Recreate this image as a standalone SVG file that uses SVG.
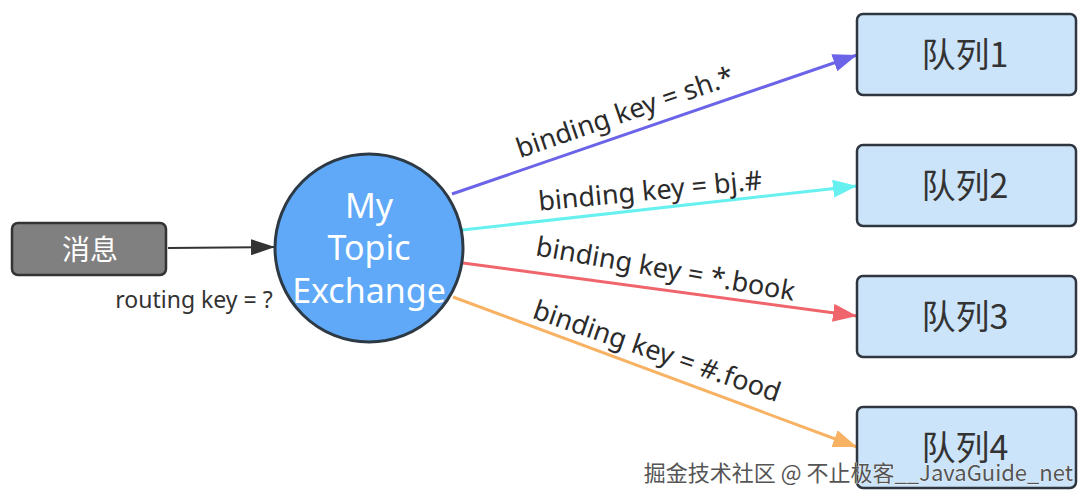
<svg xmlns="http://www.w3.org/2000/svg" width="1089" height="501" viewBox="0 0 1089 501">
<style>
.lbl{font-family:"Noto Sans","Open Sans",sans-serif;font-size:27px;fill:#2b2b2b;text-anchor:middle}
.q rect{fill:#cce4fa;stroke:#2f3640;stroke-width:2.5}
.q text{font-family:"Noto Sans CJK SC","Noto Sans",sans-serif;font-size:34px;fill:#333;text-anchor:middle}
.ex text{font-family:"Noto Sans","Noto Sans CJK SC",sans-serif;font-size:34px;fill:#fff;text-anchor:middle}
</style>
<defs>
<marker id="mk" markerUnits="userSpaceOnUse" markerWidth="24" markerHeight="16" refX="24" refY="8" orient="auto"><path d="M0,0 L24,8 L0,16 Z" fill="#333"/></marker>
<marker id="mp" markerUnits="userSpaceOnUse" markerWidth="24" markerHeight="18" refX="24" refY="9" orient="auto"><path d="M0,0 L24,9 L0,18 Z" fill="#6b63e8"/></marker>
<marker id="mc" markerUnits="userSpaceOnUse" markerWidth="24" markerHeight="18" refX="24" refY="9" orient="auto"><path d="M0,0 L24,9 L0,18 Z" fill="#66f0f0"/></marker>
<marker id="mr" markerUnits="userSpaceOnUse" markerWidth="24" markerHeight="18" refX="24" refY="9" orient="auto"><path d="M0,0 L24,9 L0,18 Z" fill="#f0646c"/></marker>
<marker id="mo" markerUnits="userSpaceOnUse" markerWidth="24" markerHeight="18" refX="24" refY="9" orient="auto"><path d="M0,0 L24,9 L0,18 Z" fill="#f8b264"/></marker>
</defs>
<rect width="1089" height="501" fill="#fff"/>
<g id="connectors" fill="none" stroke-width="3">
<line x1="168" y1="248" x2="275" y2="247" stroke="#333" stroke-width="2" marker-end="url(#mk)"/>
<line x1="452" y1="194" x2="857" y2="55" stroke="#6b63e8" marker-end="url(#mp)"/>
<line x1="462" y1="230" x2="857" y2="186" stroke="#66f0f0" marker-end="url(#mc)"/>
<line x1="463" y1="263" x2="857" y2="316" stroke="#f0646c" marker-end="url(#mr)"/>
<line x1="453" y1="297" x2="857" y2="447" stroke="#f8b264" marker-end="url(#mo)"/>
</g>
<g id="labels">
<text class="lbl" transform="translate(628,121) rotate(-19)">binding key = sh.*</text>
<text class="lbl" transform="translate(651,200) rotate(-5.5)">binding key = bj.#</text>
<text class="lbl" transform="translate(664,278) rotate(10)">binding key = *.book</text>
<text class="lbl" transform="translate(654,360) rotate(19)">binding key = #.food</text>
<text x="194" y="308" style="font-family:'Noto Sans','Open Sans',sans-serif;font-size:23px;fill:#333;text-anchor:middle">routing key = ?</text>
</g>
<g id="msg">
<rect x="12" y="223" width="154" height="52" rx="6" fill="#808080" stroke="#333" stroke-width="2.5"/>
<text x="90" y="260" style="font-family:'Noto Sans CJK SC',sans-serif;font-size:28px;fill:#fff;text-anchor:middle">消息</text>
</g>
<g id="exchange" class="ex">
<circle cx="369" cy="248" r="94" fill="#5fa9f8" stroke="#2d3a45" stroke-width="3"/>
<text x="369" y="218">My</text>
<text x="369" y="260">Topic</text>
<text x="369" y="303">Exchange</text>
</g>
<g id="q1" class="q"><rect x="857" y="14" width="219" height="81" rx="6"/><text x="965" y="67">队列1</text></g>
<g id="q2" class="q"><rect x="857" y="145" width="219" height="81" rx="6"/><text x="965" y="198">队列2</text></g>
<g id="q3" class="q"><rect x="857" y="276" width="219" height="81" rx="6"/><text x="965" y="329">队列3</text></g>
<g id="q4" class="q"><rect x="857" y="407" width="219" height="81" rx="6"/><text x="965" y="460">队列4</text></g>
<text x="1073" y="481" style="font-family:'Noto Sans CJK SC',sans-serif;font-size:22px;fill:#555;text-anchor:end;stroke:#fff;stroke-width:0.6;paint-order:stroke">掘金技术社区 @ 不止极客__JavaGuide_net</text>
</svg>
